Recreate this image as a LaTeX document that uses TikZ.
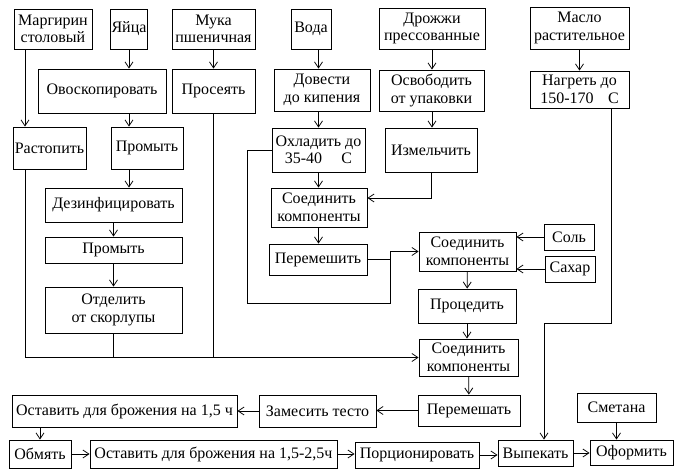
\documentclass[tikz,border=0pt]{standalone}
\usepackage{fontspec}
\setmainfont{Liberation Serif}
\usetikzlibrary{arrows.meta}
\begin{document}
\begin{tikzpicture}[x=1pt, y=-1pt, line width=0.8pt,
    >={Straight Barb[length=6pt,width=8pt]},
    etape/.style={draw, rectangle, inner sep=1pt, align=center,
        font=\fontsize{16}{17.5}\selectfont}]
\useasboundingbox (0,0) rectangle (686,476);

% Matières premières
\node[etape, minimum width=78pt, minimum height=40pt] (1) at (53,29) {Маргирин\\столовый};
\node[etape, minimum width=36pt, minimum height=40pt] (2) at (129,29) {Яйца};
\node[etape, minimum width=83pt, minimum height=40pt] (3) at (213.5,29) {Мука\\пшеничная};
\node[etape, minimum width=40pt, minimum height=40pt] (4) at (311,29) {Вода};
\node[etape, minimum width=106pt, minimum height=41pt] (5) at (432,28.5) {Дрожжи\\прессованные};
\node[etape, minimum width=99pt, minimum height=42pt] (6) at (579.5,28) {Масло\\растительное};

% Préparation
\node[etape, minimum width=128pt, minimum height=44pt] (7) at (102,91) {Овоскопировать};
\node[etape, minimum width=83pt, minimum height=44pt] (8) at (213.5,91) {Просеять};
\node[etape, minimum width=96pt, minimum height=42pt] (9) at (322,90) {Довести\\до кипения};
\node[etape, minimum width=105pt, minimum height=41pt] (10) at (431.5,90.5) {Освободить\\от упаковки};
\node[etape, minimum width=99pt, minimum height=37pt] (11) at (579.5,89.5) {Нагреть до\\150-170\hspace{0.9em}C};
\node[etape, minimum width=73pt, minimum height=42pt] (12) at (49.5,148) {Растопить};
\node[etape, minimum width=72pt, minimum height=42pt] (13) at (147,148) {Промыть};
\node[etape, minimum width=93pt, minimum height=44pt] (14) at (318.5,150) {Охладить до\\35-40\hspace{1.2em}C};
\node[etape, minimum width=92pt, minimum height=44pt] (15) at (431,150) {Измельчить};
\node[etape, minimum width=137pt, minimum height=34pt] (16) at (113.5,205) {Дезинфицировать};
\node[etape, minimum width=96pt, minimum height=39pt] (17) at (319,207.5) {Соединить\\компоненты};
\node[etape, minimum width=137pt, minimum height=26pt] (18) at (113.5,250) {Промыть};
\node[etape, minimum width=98pt, minimum height=31pt] (19) at (318,259.5) {Перемешить};
\node[etape, minimum width=50pt, minimum height=26pt] (20) at (569,237) {Соль};
\node[etape, minimum width=50pt, minimum height=26pt] (21) at (570,269) {Сахар};
\node[etape, minimum width=97pt, minimum height=39pt] (22) at (467.5,251.5) {Соединить\\компоненты};
\node[etape, minimum width=137pt, minimum height=46pt] (23) at (113.5,310) {Отделить\\от скорлупы};
\node[etape, minimum width=98pt, minimum height=34pt] (24) at (467,306) {Процедить};
\node[etape, minimum width=99pt, minimum height=37pt] (25) at (468.5,357.5) {Соединить\\компоненты};

% Pâte et cuisson
\node[etape, minimum width=225pt, minimum height=32pt] (26) at (124.5,411) {Оставить для брожения на 1,5 ч};
\node[etape, minimum width=117pt, minimum height=32pt] (27) at (317.5,411) {Замесить тесто};
\node[etape, minimum width=102pt, minimum height=31pt] (28) at (469,410.5) {Перемешать};
\node[etape, minimum width=79pt, minimum height=29pt] (29) at (616.5,407.5) {Сметана};
\node[etape, minimum width=62pt, minimum height=28pt] (30) at (40,454) {Обмять};
\node[etape, minimum width=247pt, minimum height=28pt] (31) at (213.5,454) {Оставить для брожения на 1,5-2,5ч};
\node[etape, minimum width=124pt, minimum height=26pt] (32) at (417,455) {Порционировать};
\node[etape, minimum width=75pt, minimum height=26pt] (33) at (535.5,453) {Выпекать};
\node[etape, minimum width=83pt, minimum height=25pt] (34) at (631.5,452.5) {Оформить};

% Points de passage
\coordinate (a) at (611,323);
\coordinate (b) at (247,303);
\coordinate (c) at (390,0);

% Transitions
\draw[->] ([xshift=-28pt]1.south) -- ([xshift=-28pt]1.south |- 12.north);
\draw[->] (2.south) -- (2.south |- 7.north);
\draw[->] (2.south |- 7.south) -- (2.south |- 13.north);
\draw[->] (2.south |- 13.south) -- (2.south |- 16.north);
\draw[->] (14.north |- 4.south) -- (14.north |- 9.north);
\draw[->] (14.north |- 9.south) -- (14.north);
\draw[->] (14.south) -- (14.south |- 17.north);
\draw[->] (14.south |- 17.south) -- (14.south |- 19.north);
\draw[->] (5.south) -- (5.south |- 10.north);
\draw[->] (5.south |- 10.south) -- (5.south |- 15.north);
\draw[->] (15.south) |- ([yshift=9.5pt]17.east);
\draw[->] (14.west) -| (b) -| (c |- 22.west) -- (22.west);
\draw (19.east) -- (c |- 19.east);
\draw[->] (20.west) -- (22.east |- 20.west);
\draw[->] (21.west) -- (22.east |- 21.west);
\draw[->] (24.south) -- (24.south |- 25.north);
\draw[->] ([xshift=-24.5pt]12.south) |- (25.west);
\draw (23.south) -- (23.south |- 25.west);
\draw (8.south) -- (8.south |- 25.west);
\draw[->] (11.south -| a) -- (a) -| ([xshift=8.5pt]33.north);
\draw[->] (28.west) -- (27.east |- 28.west);
\draw[->] (30.north |- 26.south) -- (30.north);
\draw[->] (31.east) -- (32.west |- 31.east);
\draw[->] (32.east) -- (33.west |- 32.east);
\draw[->] (33.east) -- (34.west |- 33.east);
\draw[->] (29.south) -- (29.south |- 34.north);
\path[->]
    (3) edge (8)
    (6) edge (11)
    (16) edge (18)
    (18) edge (23)
    (22) edge (24)
    (25) edge (28)
    (27) edge (26)
    (30) edge (31);

\end{tikzpicture}
\end{document}
